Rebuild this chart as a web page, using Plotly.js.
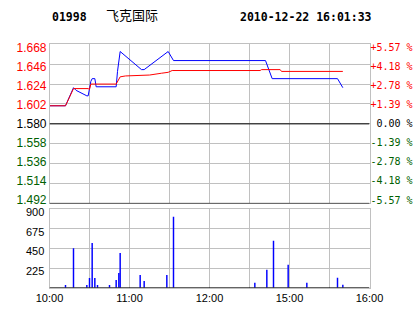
<!DOCTYPE html>
<html><head><meta charset="utf-8">
<script src="https://cdn.plot.ly/plotly-3.0.1.min.js"></script>
<style>html,body{margin:0;padding:0;background:#fff;overflow:hidden}#chart{width:414px;height:314px}</style>
</head><body><div id="chart"></div>
<script>
// ---- data (minutes since 10:00 on a trading-time axis; 12:30 and 14:30 share one slot) ----
const stockCode = "01998";
const stockName = "飞克国际";
const stampText = "2010-12-22 16:01:33";
const prevClose = 1.580;

const priceMinutes = [0, 12, 18, 20, 28, 29, 31, 32, 34, 35, 50, 51, 53, 69, 71, 89, 93, 162, 167, 216, 220];
const priceValues  = [1.600, 1.600, 1.620, 1.617, 1.611, 1.611, 1.627, 1.630, 1.630, 1.621, 1.621, 1.638, 1.660, 1.640, 1.640, 1.660, 1.650, 1.650, 1.630, 1.630, 1.620];

const avgMinutes = [0, 12, 18, 29, 30, 31, 50, 53, 57, 75, 84, 89, 92, 158, 159, 173, 174, 220];
const avgValues  = [1.600, 1.600, 1.619, 1.619, 1.618, 1.624, 1.624, 1.632, 1.633, 1.634, 1.636, 1.637, 1.639, 1.639, 1.640, 1.640, 1.638, 1.638];

const volumeMinutes = [12, 18, 28, 30, 32, 34, 36, 45, 50, 52, 53, 68, 71, 88, 93, 154, 163, 168, 179, 193, 216, 220];
const volumeValues  = [30, 450, 30, 110, 510, 110, 30, 30, 88, 168, 397, 145, 76, 145, 810, 57, 206, 538, 263, 57, 114, 34];

const timeTickMinutes = [0, 30, 60, 90, 120, 150, 180, 210, 240];
const timeTickLabels  = ["10:00", "", "11:00", "", "12:00", "", "15:00", "", "16:00"];

const priceTicks      = [1.668, 1.646, 1.624, 1.602, 1.580, 1.558, 1.536, 1.514, 1.492];
const priceTickLabels = ["1.668", "1.646", "1.624", "1.602", "1.580", "1.558", "1.536", "1.514", "1.492"];
const pctTickLabels   = ["+5.57 %", "+4.18 %", "+2.78 %", "+1.39 %", "\u00a00.00 %", "-1.39 %", "-2.78 %", "-4.18 %", "-5.57 %"];

const volumeTicks      = [0, 225, 450, 675, 900];
const volumeTickLabels = ["", "225", "450", "675", "900"];

// ---- styling ----
const RED = "#ff0000", GREEN = "#006000", BLUE = "#0000ff", GRID = "#c0c0c0";
function colorFor(v) { return v > prevClose ? RED : (v < prevClose ? GREEN : "#000000"); }
const leftLabels  = priceTicks.map((v, i) => `<span style="color:${colorFor(v)}">${priceTickLabels[i]}</span>`);
const rightLabels = priceTicks.map((v, i) => `<span style="color:${colorFor(v)}">${pctTickLabels[i]}</span>`);

const W = 414, H = 314;
const xDomain = [49.5 / W, 369.5 / W];
const priceDomain = [1 - 203.4 / H, 1 - 44.3 / H];
const volDomain = [1 - 287.7 / H, 1 - 209 / H];

const traces = [
  {x: priceMinutes, y: priceValues, type: "scatter", mode: "lines", xaxis: "x", yaxis: "y",
   line: {color: BLUE, width: 1}, hoverinfo: "skip"},
  {x: avgMinutes, y: avgValues, type: "scatter", mode: "lines", xaxis: "x", yaxis: "y",
   line: {color: RED, width: 1}, hoverinfo: "skip"},
  {x: volumeMinutes, y: volumeValues, type: "bar", xaxis: "x", yaxis: "y2",
   width: 1.1, marker: {color: BLUE, line: {width: 0}}, hoverinfo: "skip"},
  {x: [], y: [], type: "scatter", xaxis: "x", yaxis: "y3", hoverinfo: "skip"},
  {x: [], y: [], type: "scatter", xaxis: "x", yaxis: "y4", hoverinfo: "skip"}
];

const layout = {
  width: W, height: H, margin: {l: 0, r: 0, t: 0, b: 0},
  paper_bgcolor: "#ffffff", plot_bgcolor: "#ffffff", showlegend: false,
  font: {family: "Liberation Sans, Arial, sans-serif", size: 11, color: "#000"},
  xaxis: {domain: xDomain, range: [0, 240], anchor: "y2", tickmode: "array",
    tickvals: timeTickMinutes, ticktext: timeTickLabels, showgrid: true, gridcolor: GRID, gridwidth: 1,
    zeroline: false, showline: true, linecolor: GRID, linewidth: 1, mirror: "all", ticks: "",
    tickfont: {family: "Liberation Sans, Arial, sans-serif", size: 11, color: "#000"}, fixedrange: true},
  yaxis: {domain: priceDomain, range: [1.492, 1.668], tickmode: "array", tickvals: priceTicks,
    showticklabels: false, showgrid: true, gridcolor: GRID, gridwidth: 1, zeroline: false,
    showline: true, linecolor: GRID, linewidth: 1, mirror: true, ticks: "", fixedrange: true},
  yaxis2: {domain: volDomain, range: [0, 900], tickmode: "array", tickvals: volumeTicks, ticktext: volumeTickLabels,
    showgrid: true, gridcolor: GRID, gridwidth: 1, zeroline: false, showline: true, linecolor: GRID,
    linewidth: 1, mirror: true, ticks: "", ticklabelshift: 3, ticklabelstandoff: 2,
    tickfont: {family: "Liberation Sans, Arial, sans-serif", size: 11, color: "#000"}, fixedrange: true},
  yaxis3: {overlaying: "y", side: "left", anchor: "x", range: [1.48808, 1.67169], tickmode: "array",
    tickvals: priceTicks, ticktext: leftLabels, showgrid: false, zeroline: false, showline: false, ticks: "",
    ticklabelstandoff: 2,
    tickfont: {family: "Liberation Sans, Arial, sans-serif", size: 12, color: "#000"}, fixedrange: true},
  yaxis4: {overlaying: "y", side: "right", anchor: "x", range: [1.48808, 1.67169], tickmode: "array",
    tickvals: priceTicks, ticktext: rightLabels, showgrid: false, zeroline: false, showline: false, ticks: "",
    ticklabelstandoff: 0,
    tickfont: {family: "DejaVu Sans Mono, monospace", size: 10, color: "#000"}, fixedrange: true},
  shapes: [
    {type: "line", xref: "x", yref: "y", x0: 0, x1: 240, y0: prevClose, y1: prevClose, line: {color: "#000", width: 1}},
    {type: "line", xref: "x", yref: "y", x0: 0, x1: 240, y0: 1.492, y1: 1.492, line: {color: "#000", width: 1}},
    {type: "line", xref: "x", yref: "y2", x0: 0, x1: 240, y0: 0, y1: 0, line: {color: "#000", width: 1}}
  ],
  annotations: [
    {text: stockCode, xref: "paper", yref: "paper", x: 50 / W, y: 1 - 16.7 / H, xanchor: "left", yanchor: "middle",
     showarrow: false, font: {family: "DejaVu Sans Mono, monospace", size: 11.5, weight: "bold", color: "#000"}},
    {text: stockName, xref: "paper", yref: "paper", x: 104 / W, y: 1 - 15 / H, xanchor: "left", yanchor: "middle",
     showarrow: false, font: {family: "Noto Sans CJK SC", size: 13, color: "#000"}},
    {text: stampText, xref: "paper", yref: "paper", x: 237.5 / W, y: 1 - 16.7 / H, xanchor: "left", yanchor: "middle",
     showarrow: false, font: {family: "DejaVu Sans Mono, monospace", size: 11.5, weight: "bold", color: "#000"}}
  ]
};

Plotly.newPlot("chart", traces, layout, {staticPlot: true, displayModeBar: false});
</script>
</body></html>
